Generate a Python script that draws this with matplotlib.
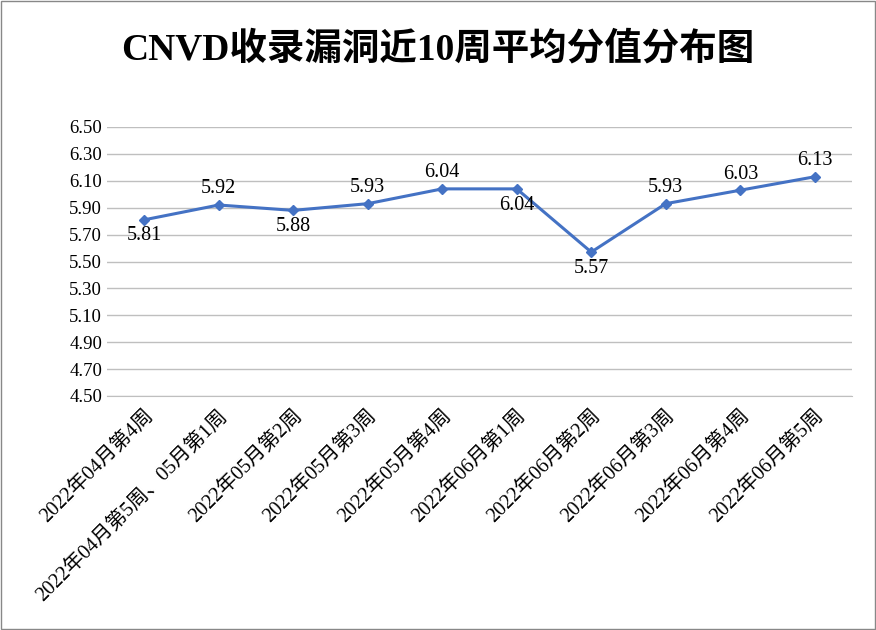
import matplotlib.pyplot as plt
import numpy as np

plt.rcParams['font.family'] = ['Liberation Serif', 'Noto Sans CJK SC']

weeks = ['2022年04月第4周', '2022年04月第5周、05月第1周', '2022年05月第2周', '2022年05月第3周',
         '2022年05月第4周', '2022年06月第1周', '2022年06月第2周', '2022年06月第3周',
         '2022年06月第4周', '2022年06月第5周']
scores = [5.81, 5.92, 5.88, 5.93, 6.04, 6.04, 5.57, 5.93, 6.03, 6.13]
label_pos = ['below', 'above', 'below', 'above', 'above', 'below', 'below', 'above', 'above', 'above']
yticks = [4.50, 4.70, 4.90, 5.10, 5.30, 5.50, 5.70, 5.90, 6.10, 6.30, 6.50]

fig = plt.figure(figsize=(8.76, 6.3), dpi=100)
fig.patches.append(plt.Rectangle((0.001, 0.001), 0.998, 0.998, transform=fig.transFigure,
                                 fill=False, edgecolor='#888888', lw=1))
ax = fig.add_axes([107/876, 1-396/630, 745/876, 269/630])

x = np.arange(len(weeks))
ax.plot(x, scores, color='#4472C4', lw=2.2, marker='D', markersize=5)
for xi, v, p in zip(x, scores, label_pos):
    off = 0.12 if p == 'above' else -0.12
    ax.text(xi, v + off, f'{v:.2f}', ha='center', va='center', fontsize=14.5)

ax.set_xlim(-0.5, len(weeks) - 0.5)
ax.set_ylim(4.5, 6.5)
ax.set_yticks(yticks)
ax.set_yticklabels([f'{t:.2f}' for t in yticks], fontsize=13.5)
ax.yaxis.grid(True, color='#bfbfbf', lw=1)
ax.set_axisbelow(True)
ax.set_xticks(x)
ax.set_xticklabels(weeks, rotation=45, ha='right', rotation_mode='anchor', fontsize=14.5)
for s in ['top', 'right', 'left']:
    ax.spines[s].set_visible(False)
ax.spines['bottom'].set_color('#bfbfbf')
ax.tick_params(length=0)
ax.tick_params(axis='x', pad=8)

fig.text(0.5, 1-50/630, 'CNVD收录漏洞近10周平均分值分布图', ha='center', va='center',
         fontsize=27, fontweight='bold')

fig.savefig('out.png', dpi=100)
